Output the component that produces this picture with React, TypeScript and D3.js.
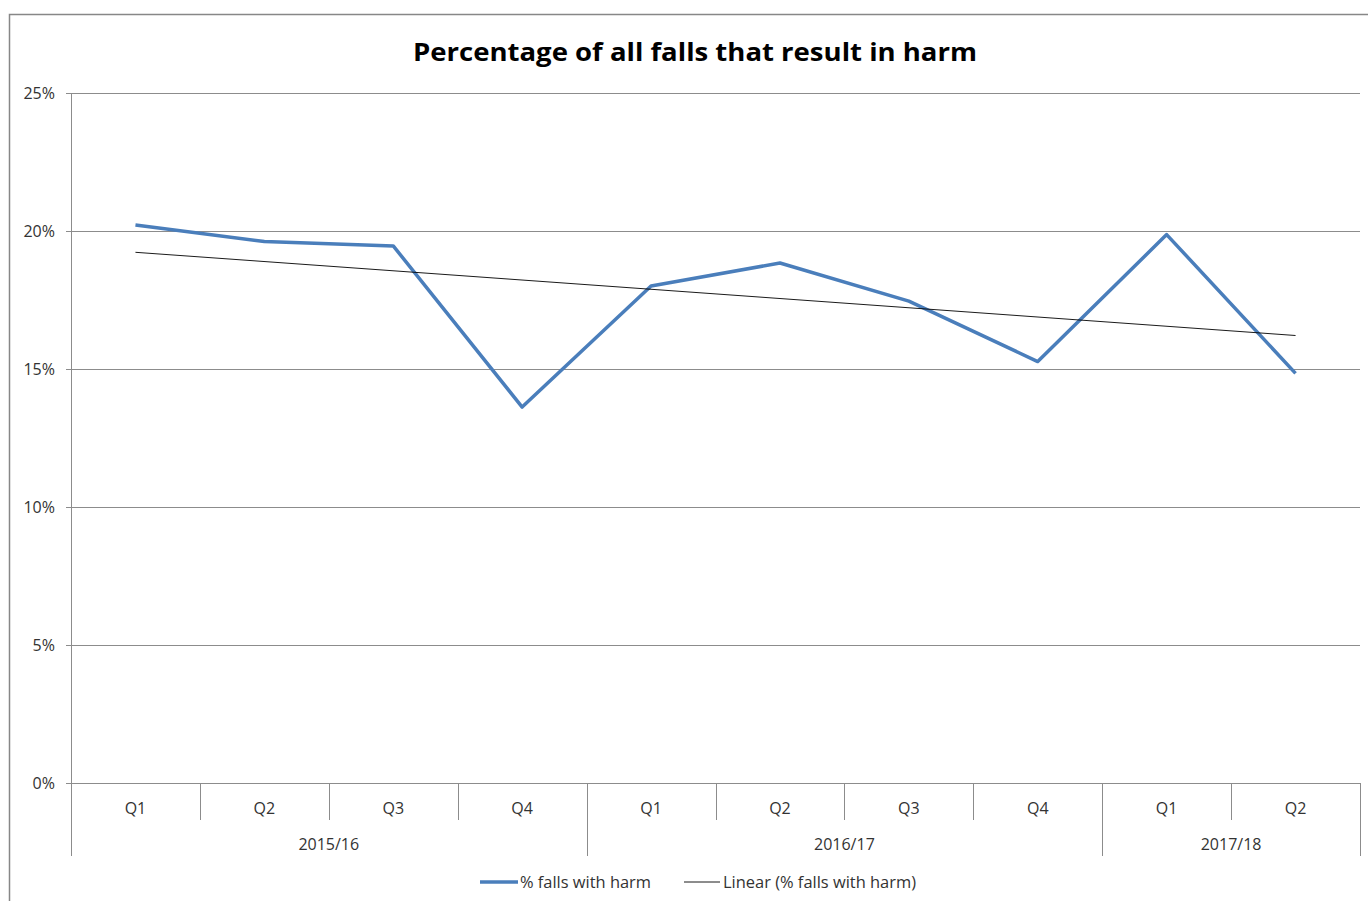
import React from "react";
import * as d3 from "d3";

const quarters = ["Q1", "Q2", "Q3", "Q4", "Q1", "Q2", "Q3", "Q4", "Q1", "Q2"];
const years = ["2015/16", "2016/17", "2017/18"];
const yearSpans = [4, 4, 2];
const falls = [20.22, 19.62, 19.46, 13.62, 18.01, 18.84, 17.46, 15.27, 19.87, 14.84];
const yTicks = [0, 5, 10, 15, 20, 25];

const W = 1368;
const H = 901;
const L = 71, R = 1360, T = 93, B = 783;
const FONT = "'Open Sans', 'Noto Sans', sans-serif";
const AX = 16;

export default function App() {
  const x = d3.scaleBand<number>().domain(d3.range(quarters.length)).range([L, R]);
  const y = d3.scaleLinear().domain([0, 25]).range([B, T]);
  const cx = (i: number) => (x(i) as number) + x.bandwidth() / 2;

  // linear trend (least squares)
  const n = falls.length;
  const mx = d3.mean(d3.range(n)) as number;
  const my = d3.mean(falls) as number;
  const sxy = d3.sum(falls.map((v, i) => (i - mx) * (v - my)));
  const sxx = d3.sum(d3.range(n).map((i) => (i - mx) * (i - mx)));
  const slope = sxy / sxx;
  const icpt = my - slope * mx;
  const trend = [0, n - 1].map((i) => [cx(i), y(icpt + slope * i)] as [number, number]);

  const line = d3.line<number>().x((_, i) => cx(i)).y((v) => y(v));

  // year group boundaries
  const bounds: number[] = [0];
  yearSpans.forEach((s) => bounds.push(bounds[bounds.length - 1] + s));
  const bx = (k: number) => (k < n ? (x(k) as number) : R);

  return (
    <svg width={W} height={H} style={{ position: "absolute", left: 0, top: 0, background: "#fff" }}>
      <rect x={9.5} y={14.5} width={1400} height={1000} fill="#fff" stroke="#878787" strokeWidth={1.5} />
      <text x={413} y={61} textLength={564} lengthAdjust="spacingAndGlyphs" fontFamily={FONT} fontWeight="bold" fontSize={25} fill="#000">
        Percentage of all falls that result in harm
      </text>
      {yTicks.map((t) => (
        <g key={t}>
          <line x1={66} x2={R} y1={Math.round(y(t)) + 0.5} y2={Math.round(y(t)) + 0.5} stroke="#8c8c8c" strokeWidth={1} />
          <text x={55} y={y(t) + 5.5} textAnchor="end" fontFamily={FONT} fontSize={AX} fill="#333">
            {t}%
          </text>
        </g>
      ))}
      <line x1={L + 0.5} x2={L + 0.5} y1={T} y2={B} stroke="#8c8c8c" />
      {/* category separators */}
      {d3.range(1, n).filter((k) => !bounds.includes(k)).map((k) => (
        <line key={k} x1={Math.round(bx(k)) + 0.5} x2={Math.round(bx(k)) + 0.5} y1={B} y2={820} stroke="#8c8c8c" />
      ))}
      {bounds.map((k) => (
        <line key={"b" + k} x1={Math.round(bx(k)) + 0.5} x2={Math.round(bx(k)) + 0.5} y1={B} y2={856} stroke="#8c8c8c" />
      ))}
      {quarters.map((q, i) => (
        <text key={i} x={cx(i)} y={813.5} textAnchor="middle" fontFamily={FONT} fontSize={AX} fill="#333">
          {q}
        </text>
      ))}
      {years.map((yr, j) => (
        <text key={yr} x={(bx(bounds[j]) + bx(bounds[j + 1])) / 2} y={850} textAnchor="middle" fontFamily={FONT} fontSize={AX} fill="#333">
          {yr}
        </text>
      ))}
      <path d={line(falls) || ""} fill="none" stroke="#4a7ebb" strokeWidth={3.5} strokeLinejoin="round" />
      <line x1={trend[0][0]} y1={trend[0][1]} x2={trend[1][0]} y2={trend[1][1]} stroke="#000" strokeWidth={0.9} />
      {/* legend */}
      <line x1={480} x2={518} y1={882} y2={882} stroke="#4a7ebb" strokeWidth={3.5} />
      <text x={520} y={887.5} textLength={131} lengthAdjust="spacingAndGlyphs" fontFamily={FONT} fontSize={AX} fill="#333">% falls with harm</text>
      <line x1={684} x2={720} y1={882} y2={882} stroke="#000" strokeWidth={0.9} />
      <text x={723} y={887.5} textLength={193} lengthAdjust="spacingAndGlyphs" fontFamily={FONT} fontSize={AX} fill="#333">Linear (% falls with harm)</text>
    </svg>
  );
}
